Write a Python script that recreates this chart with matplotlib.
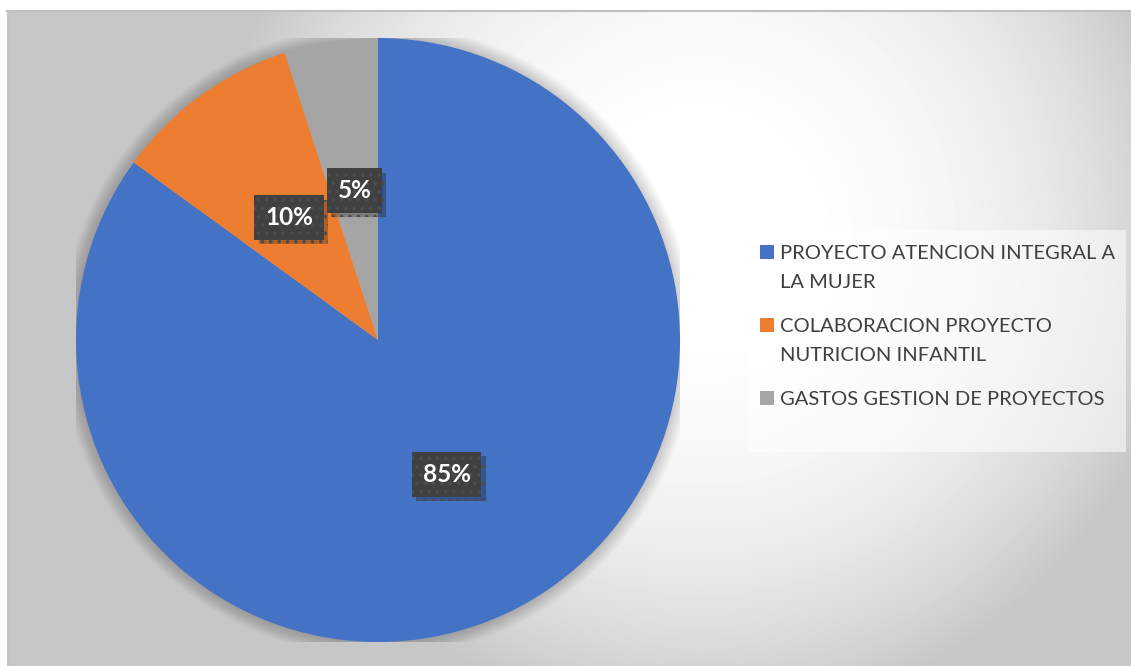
import textwrap

import matplotlib.pyplot as plt
import matplotlib.patheffects as pe
import numpy as np
from matplotlib.patches import Rectangle, Circle

W, H = 1131, 666

categories = [
    "PROYECTO ATENCION INTEGRAL A LA MUJER",
    "COLABORACION PROYECTO NUTRICION INFANTIL",
    "GASTOS GESTION DE PROYECTOS",
]
shares = [85, 10, 5]
colors = ['#4472C4', '#ED7D31', '#A5A5A5']

plt.rcParams['font.family'] = ['Lato', 'DejaVu Sans']
plt.rcParams['hatch.linewidth'] = 1.5


def fx(px):
    return px / W


def fy(py):
    # pixel row from top -> figure fraction from bottom
    return 1 - py / H


fig = plt.figure(figsize=(W / 100, H / 100), dpi=100)
fig.patch.set_facecolor('white')

# chart area background: soft radial gradient, light near the top middle
bg = fig.add_axes([fx(7), 0, fx(W - 7), fy(10)])
bg.set_axis_off()
xs = np.arange(7, W)
ys = np.arange(10, H)
gx, gy = np.meshgrid(xs, ys)
d = np.hypot(gx - 700, gy - 230)
val = 1 - 0.22 * np.clip(d / 490, 0, 1) ** 2.5
bg.imshow(val, cmap='gray', vmin=0, vmax=1, aspect='auto', interpolation='bilinear')
fig.add_artist(plt.Line2D([fx(7), 1], [fy(10.5), fy(10.5)], color='#BFBFBF', lw=1.5))
fig.add_artist(plt.Line2D([fx(7.5), fx(7.5)], [0, fy(10)], color='#C4C4C4', lw=1))

# pie
cx, cy, r = 378, 340, 302
ax = fig.add_axes([fx(cx - r), fy(cy + r), fx(2 * r), 2 * r / H])
ax.set_xlim(-1, 1)
ax.set_ylim(-1, 1)
ax.set_axis_off()

# soft shadow behind the pie
for k in range(16, 0, -1):
    ax.add_patch(Circle((0, 0), 1 + k * 0.003, color='black', alpha=0.012, lw=0, zorder=0))

wedges, _, autotexts = ax.pie(
    shares, colors=colors, startangle=90, counterclock=False, radius=1,
    autopct='%1.0f%%', pctdistance=0.5,
    wedgeprops=dict(linewidth=0, zorder=1),
    textprops=dict(color='white', fontsize=17.5, fontweight='bold'),
)
ax.set_xlim(-1, 1)
ax.set_ylim(-1, 1)
for t in autotexts:
    t.set_bbox(dict(boxstyle='square,pad=0.45', facecolor='#404040', edgecolor='#4c4c4c',
                    hatch='..', linewidth=0))
    t.get_bbox_patch().set_path_effects([
        pe.SimplePatchShadow(offset=(3, -3), shadow_rgbFace='black', alpha=0.25),
        pe.Normal(),
    ])

# legend
fig.patches.append(Rectangle((fx(748), fy(452)), fx(378), 222 / H, transform=fig.transFigure,
                             facecolor='white', alpha=0.55, edgecolor='none'))
line_pitch = 29
entry_gap = 15
top = 245
for name, color in zip(categories, colors):
    lines = textwrap.fill(name, 28).split('\n')
    fig.patches.append(Rectangle((fx(760), fy(top + 14)), fx(14), 14 / H,
                                 transform=fig.transFigure, facecolor=color, edgecolor='none'))
    for i, line in enumerate(lines):
        fig.text(fx(780), fy(top + 14 + i * line_pitch), line, fontsize=14.5, color='#404040',
                 va='baseline', ha='left')
    top += len(lines) * line_pitch + entry_gap

fig.savefig('out.png', dpi=100)
